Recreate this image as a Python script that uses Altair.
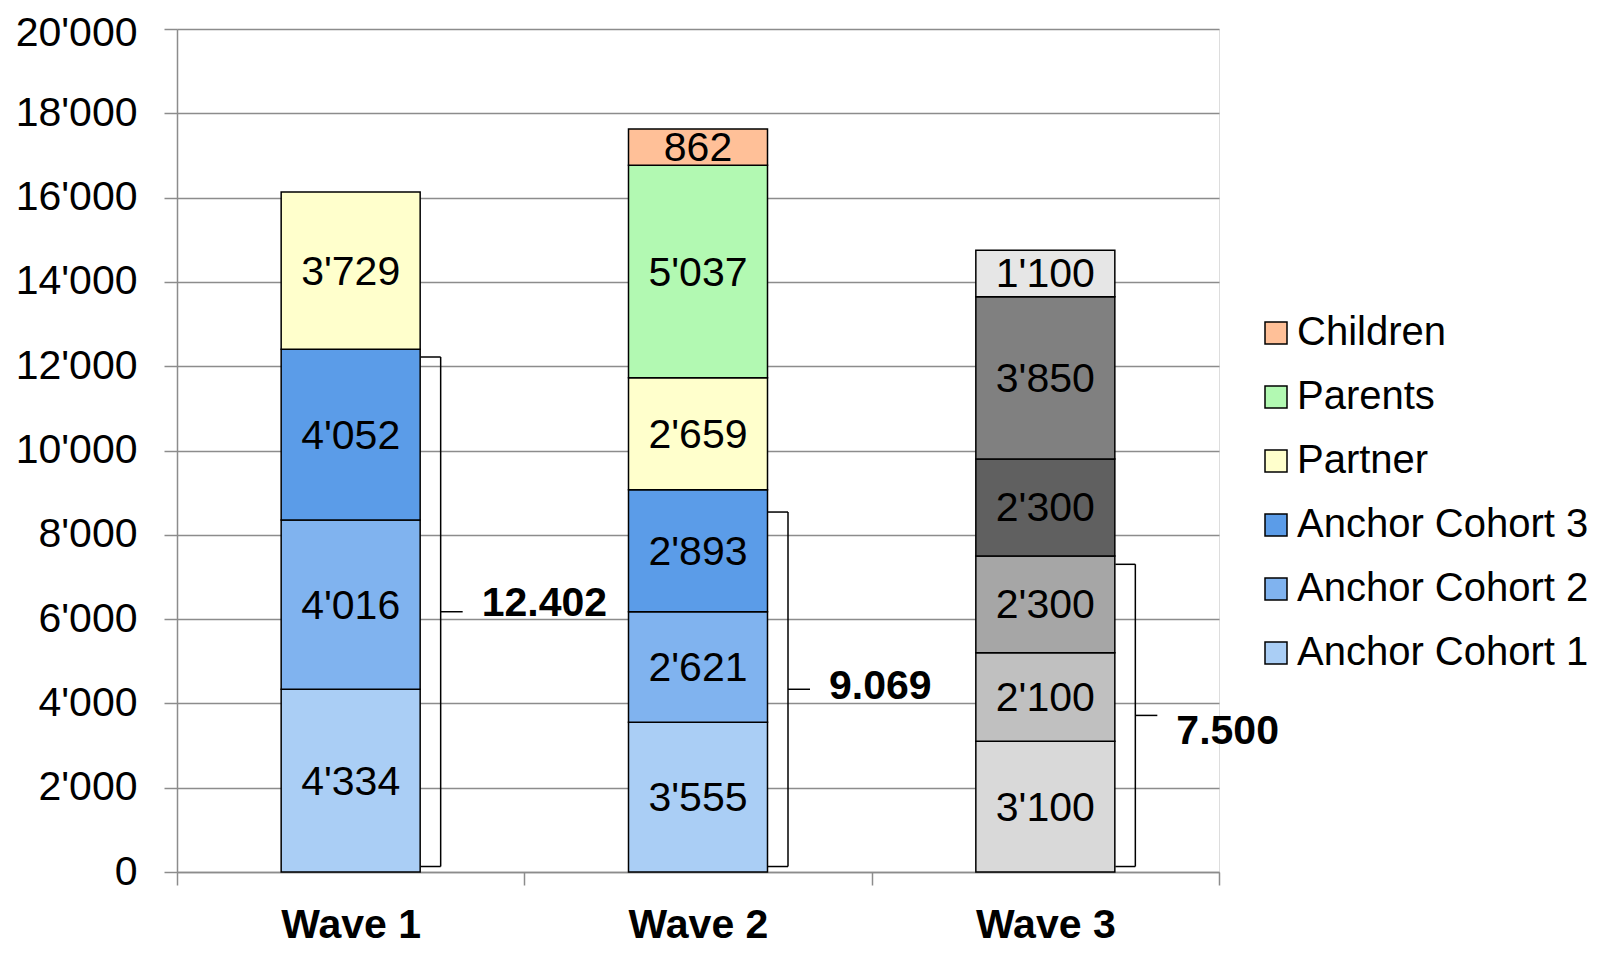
import altair as alt
import pandas as pd

waves = ["Wave 1", "Wave 2", "Wave 3"]
categories = ["Anchor Cohort 1", "Anchor Cohort 2", "Anchor Cohort 3", "Partner", "Parents", "Children"]
wave1_values = [4334, 4016, 4052, 3729, 0, 0]
wave2_values = [3555, 2621, 2893, 2659, 5037, 862]
wave3_values = [3100, 2100, 2300, 2300, 3850, 1100]

# brace extents (data units)
brace_top = [12220, 8540, 7300]
brace_bottom = [130, 130, 130]
brace_label_dy = [-8, -2, 17]

main_colors = ["#AACEF5", "#80B3EF", "#5B9CE8", "#FFFFCC", "#B2F9B2", "#FFC098"]
wave3_colors = ["#D9D9D9", "#C0C0C0", "#A6A6A6", "#606060", "#808080", "#E6E6E6"]

FONT = "Liberation Sans"

rows = []
for w, vals in zip(waves, [wave1_values, wave2_values, wave3_values]):
    base = 0
    for c, v in zip(categories, vals):
        if v == 0:
            continue
        key = c if w != "Wave 3" else "W3 " + c
        rows.append({"wave": w, "cat": c, "key": key, "y0": base, "y1": base + v,
                     "mid": base + v / 2, "label": f"{v:,}".replace(",", "'")})
        base += v
df = pd.DataFrame(rows)

brace_rows = []
for i, (w, vals) in enumerate(zip(waves, [wave1_values, wave2_values, wave3_values])):
    total = sum(vals[:3])
    brace_rows.append({"wave": w, "top": brace_top[i], "bottom": brace_bottom[i],
                       "mid": (brace_top[i] + brace_bottom[i]) / 2,
                       "label": f"{total:,}".replace(",", ".")})
bdf = pd.DataFrame(brace_rows)

color_domain = categories + ["W3 " + c for c in categories]
color_range = main_colors + wave3_colors

x_enc = alt.X("wave:N", sort=waves, title=None,
              scale=alt.Scale(paddingInner=0, paddingOuter=0),
              axis=alt.Axis(tickBand="extent", labelFont=FONT, labelFontSize=41,
                            labelFontWeight="bold", labelColor="black", labelAngle=0,
                            tickSize=13, tickColor="#8C8C8C", tickWidth=1.5,
                            domainColor="#8C8C8C", domainWidth=1.5, labelPadding=20,
                            grid=False))

bars = alt.Chart(df).mark_bar(width=139, stroke="black", strokeWidth=1.5).encode(
    x=x_enc,
    y=alt.Y("y0:Q", title=None,
            scale=alt.Scale(domain=[0, 20000], nice=False),
            axis=alt.Axis(values=list(range(0, 20001, 2000)),
                          labelExpr="replace(format(datum.value, ','), ',', \"'\")",
                          labelFont=FONT, labelFontSize=41, labelColor="black",
                          labelOffset={"condition": {"test": "datum.value >= 20000", "value": 4},
                                       "value": 0},
                          tickSize=13, tickColor="#8C8C8C", tickWidth=1.5,
                          domainColor="#8C8C8C", domainWidth=1.5,
                          gridColor="#8C8C8C", gridWidth=1.5, labelPadding=27)),
    y2="y1:Q",
    fill=alt.Fill("key:N", scale=alt.Scale(domain=color_domain, range=color_range),
                  legend=alt.Legend(values=categories[::-1], orient="none",
                                    legendX=1079, legendY=284, title=None,
                                    labelFont=FONT, labelFontSize=40, labelColor="black",
                                    symbolType="square", symbolSize=484,
                                    symbolStrokeColor="black", symbolStrokeWidth=1.5,
                                    rowPadding=24, labelOffset=1, padding=0,
                                    labelLimit=400)),
)

value_labels = alt.Chart(df).mark_text(font=FONT, fontSize=41, color="black",
                                       baseline="middle", dy=2).encode(
    x=alt.X("wave:N", sort=waves), y="mid:Q", text="label:N")

brace_line = alt.Chart(bdf).mark_rule(xOffset=90, color="black", strokeWidth=1.5).encode(
    x=alt.X("wave:N", sort=waves), y="top:Q", y2="bottom:Q")
hook_top = alt.Chart(bdf).mark_tick(xOffset=80, size=20, thickness=1.5, color="black",
                                    opacity=1).encode(
    x=alt.X("wave:N", sort=waves), y="top:Q")
hook_bottom = alt.Chart(bdf).mark_tick(xOffset=80, size=20, thickness=1.5, color="black",
                                       opacity=1).encode(
    x=alt.X("wave:N", sort=waves), y="bottom:Q")
tip = alt.Chart(bdf).mark_tick(xOffset=101, size=22, thickness=1.5, color="black",
                               opacity=1).encode(
    x=alt.X("wave:N", sort=waves), y="mid:Q")

brace_labels = []
for i, w in enumerate(waves):
    brace_labels.append(
        alt.Chart(bdf).transform_filter(alt.datum.wave == w).mark_text(
            font=FONT, fontSize=41, fontWeight="bold", color="black", align="left",
            baseline="middle", dx=131, dy=brace_label_dy[i]).encode(
            x=alt.X("wave:N", sort=waves), y="mid:Q", text="label:N"))

chart = alt.layer(bars, value_labels, brace_line, hook_top, hook_bottom, tip,
                  *brace_labels).properties(
    width=1042, height=843,
    autosize=alt.AutoSizeParams(type="none"),
    padding={"left": 169, "top": 21, "right": 384, "bottom": 73},
).configure_view(stroke=None).configure(background="white")

chart.save("out.html", embed_options={"renderer": "svg", "actions": False})
